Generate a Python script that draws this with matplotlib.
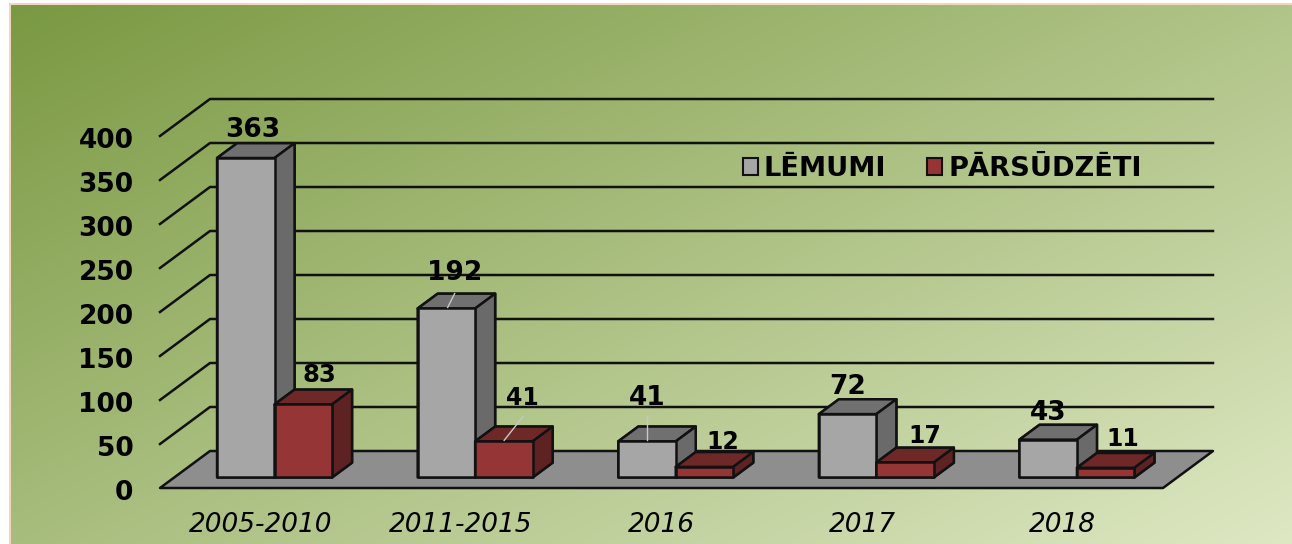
import numpy as np
import matplotlib
matplotlib.use("Agg")
import matplotlib.pyplot as plt
from matplotlib.patches import Polygon, Patch, Rectangle
from matplotlib.lines import Line2D
from matplotlib.transforms import IdentityTransform, ScaledTranslation

categories = ["2005-2010", "2011-2015", "2016", "2017", "2018"]
lemumi = [363, 192, 41, 72, 43]
parsudzeti = [83, 41, 12, 17, 11]
y_ticks = [0, 50, 100, 150, 200, 250, 300, 350, 400]
series_names = ["LĒMUMI", "PĀRSŪDZĒTI"]

W, H = 1292, 544
plt.rcParams["font.family"] = ["DejaVu Sans"]
fig = plt.figure(figsize=(W / 100, H / 100), dpi=100, facecolor="white")

# background panel
fig.add_artist(Rectangle((9 / W, 0), 1 - 9 / W, 1 - 3 / H, transform=fig.transFigure,
                         facecolor="#F3D4BC", edgecolor="none", zorder=-5))
bg = fig.add_axes([11 / W, 0, 1 - 11 / W, 1 - 5 / H], zorder=-1)
bg.axis("off")
gx, gy = np.meshgrid(np.linspace(0, 1, 400), np.linspace(0, 1, 200))
t = (gx * 1281 * 0.45 + gy * 539 * 0.89)
t = t / t.max()
c0 = np.array([122, 153, 66]) / 255
c1 = np.array([222, 232, 195]) / 255
bg.imshow(c0 + (c1 - c0) * t[..., None], aspect="auto", origin="upper", interpolation="bilinear")

# front plane of the 3-D box: x in category units, y in value units
ax = fig.add_axes([160 / W, 1 - 488 / H, (1163 - 160) / W, 352 / H])
ax.set_xlim(0, len(categories))
ax.set_ylim(0, 400)
ax.patch.set_alpha(0)
for s in ax.spines.values():
    s.set_visible(False)
ax.set_xticks(np.arange(len(categories)) + 0.5, categories, style="italic", fontsize=19)
ax.set_yticks(y_ticks, [str(v) for v in y_ticks], fontweight="bold", fontsize=19)
ax.tick_params(length=0)
ax.tick_params(axis="x", pad=17)
ax.tick_params(axis="y", pad=19)
nudge = ScaledTranslation(0, -2 / 100, fig.dpi_scale_trans)
for lab in ax.get_yticklabels():
    lab.set_transform(lab.get_transform() + nudge)

DEPTH = np.array([50.0, 37.0])   # pixel vector of the full box depth


def proj(x, v, d=0.0):
    """category x, value v, depth fraction d -> canvas pixels (y up)."""
    p = ax.transData.transform((x, v))
    return (p[0] + DEPTH[0] * d, p[1] + DEPTH[1] * d)


def face(pts, fc, lw=1.8, z=3):
    fig.add_artist(Polygon(pts, closed=True, facecolor=fc, edgecolor="#111111", lw=lw,
                           transform=IdentityTransform(), zorder=z, joinstyle="round"))


def line(pts, color="#111111", lw=1.8, z=2):
    xs, ys = zip(*pts)
    fig.add_artist(Line2D(xs, ys, color=color, lw=lw, transform=IdentityTransform(), zorder=z))


# gridlines: side wall and back wall
for v in y_ticks[1:]:
    line([proj(0, v), proj(0, v, 1), proj(len(categories), v, 1)])

# floor
n = len(categories)
face([proj(0, 0), proj(n, 0), proj(n, 0, 1), proj(0, 0, 1)], "#8E8E8E", lw=1.8, z=2.5)

BAR_W = 0.2866
D0, D1 = 0.285, 0.685


def bar3d(x0, v, front, top, side, z):
    x1 = x0 + BAR_W
    face([proj(x0, 0, D0), proj(x1, 0, D0), proj(x1, 0, D1), proj(x1, v, D1),
          proj(x0, v, D1), proj(x0, v, D0)], side, z=z)
    face([proj(x0, v, D0), proj(x1, v, D0), proj(x1, v, D1), proj(x0, v, D1)], top, z=z)
    face([proj(x1, 0, D0), proj(x1, 0, D1), proj(x1, v, D1), proj(x1, v, D0)], side, z=z)
    face([proj(x0, 0, D0), proj(x1, 0, D0), proj(x1, v, D0), proj(x0, v, D0)], front, z=z)


GREY = ("#A6A6A6", "#707070", "#6A6A6A")
RED = ("#953535", "#6F2828", "#5F2222")

# label offsets (pixels, from the bar's top-left front corner)
grey_off = [(36, 28), (37, 35), (29, 43), (29, 27), (29, 27)]
red_off = [(45, 29), (47, 43), (47, 25), (48, 26), (46, 29)]
grey_size = 19
red_sizes = [17.5, 17, 17, 17, 17]

for i in range(n):
    xg = i + 0.5 - BAR_W
    xr = i + 0.5
    bar3d(xg, lemumi[i], *GREY, z=3 + i * 0.1)
    bar3d(xr, parsudzeti[i], *RED, z=3.05 + i * 0.1)

    px, py = proj(xg, lemumi[i], D0)
    fig.text((px + grey_off[i][0]) / W, (py + grey_off[i][1]) / H, str(lemumi[i]),
             ha="center", va="center", fontweight="bold", fontsize=grey_size, zorder=6)
    px, py = proj(xr, parsudzeti[i], D0)
    fig.text((px + red_off[i][0]) / W, (py + red_off[i][1]) / H, str(parsudzeti[i]),
             ha="center", va="center", fontweight="bold", fontsize=red_sizes[i], zorder=6)

# leader lines of the moved labels
px, py = proj(1 + 0.5 - BAR_W, lemumi[1], D0)
line([(px + 30, py + 1), (px + 37, py + 15)], color="#C8C8C8", lw=1, z=6)
px, py = proj(1 + 0.5, parsudzeti[1], D0)
line([(px + 29, py + 1), (px + 48, py + 25)], color="#C8C8C8", lw=1, z=6)
px, py = proj(2 + 0.5 - BAR_W, lemumi[2], D0)
line([(px + 29, py + 1), (px + 29, py + 25)], color="#C8C8C8", lw=1, z=6)

handles = [Patch(facecolor=GREY[0], edgecolor="#111111", lw=1.5),
           Patch(facecolor=RED[0], edgecolor="#111111", lw=1.5)]
fs = 19.6
fig.legend(handles, series_names, ncol=2, frameon=False, loc="center left",
           bbox_to_anchor=(743 / W, 1 - 169 / H), prop={"weight": "bold", "size": fs},
           handlelength=0.55, handleheight=0.55, handletextpad=0.22, columnspacing=1.5,
           borderpad=0, borderaxespad=0).set_zorder(7)

fig.savefig("out.png", dpi=100)
